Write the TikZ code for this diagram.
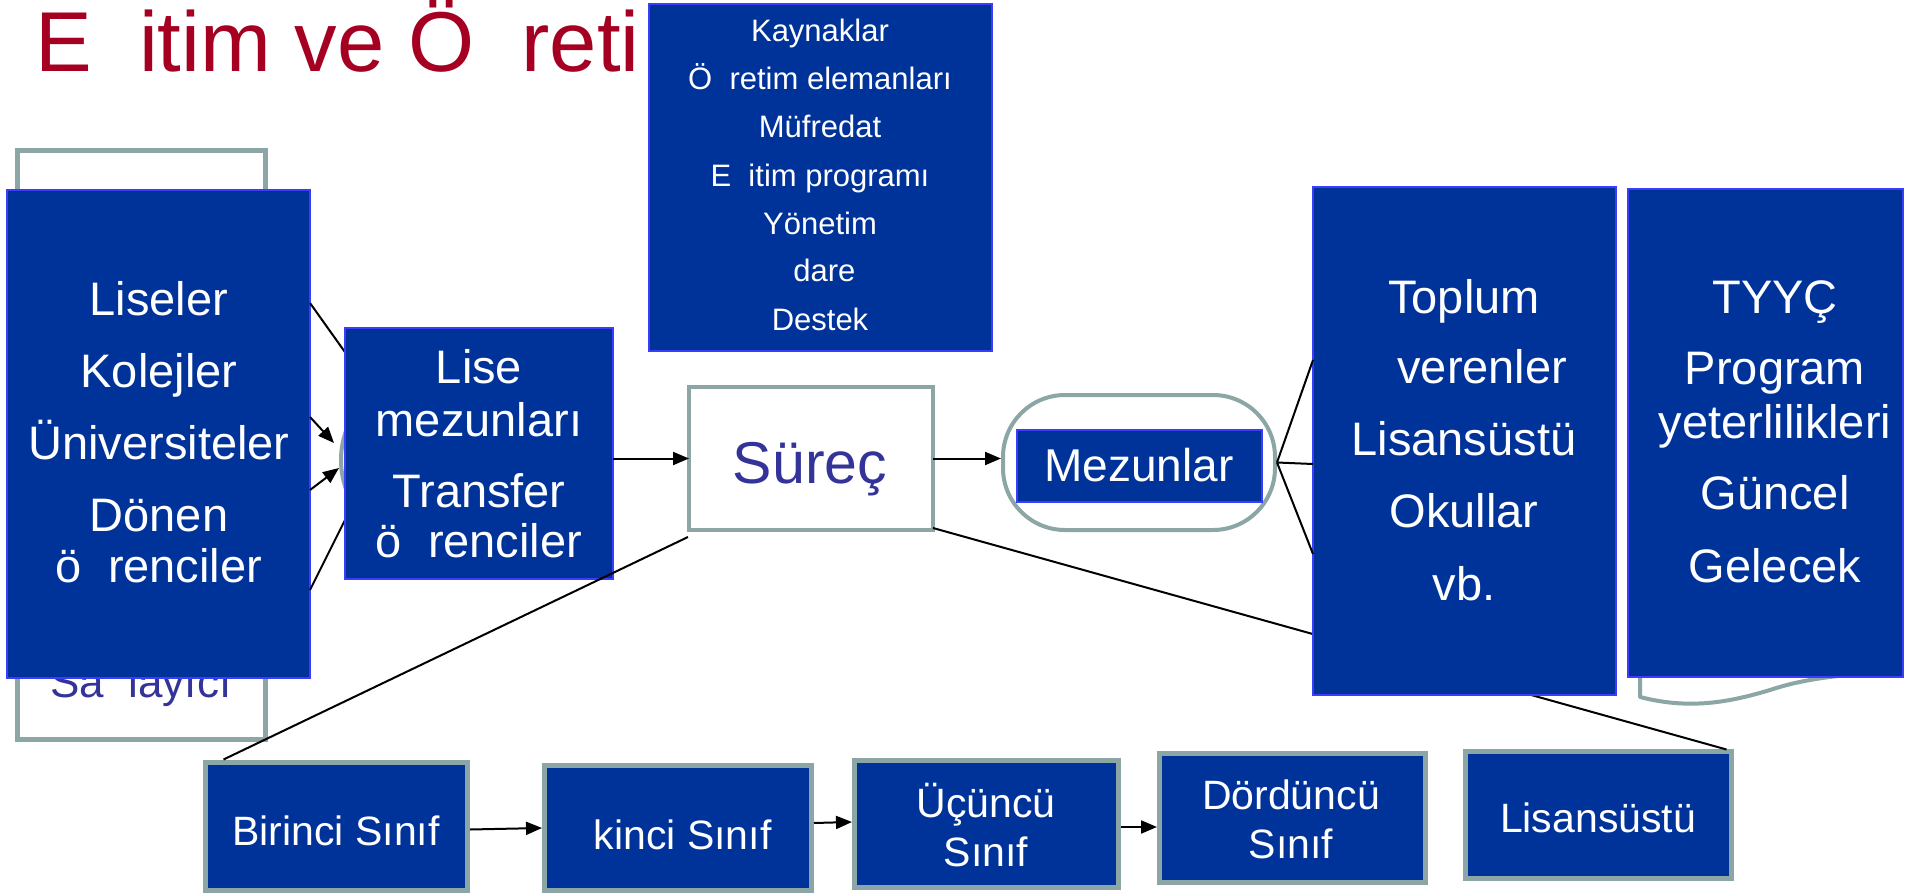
\documentclass[tikz,border=0pt]{standalone}
\usepackage{fontspec}
\setmainfont{Liberation Sans}
\usetikzlibrary{arrows.meta,fit,calc}
\definecolor{bfill}{RGB}{0,51,153}
\definecolor{bline}{RGB}{60,60,250}
\definecolor{gline}{RGB}{140,165,165}
\definecolor{tred}{RGB}{165,0,33}
\definecolor{tblue}{RGB}{51,51,153}
\newcommand\gp{\hspace{0.556em}}
\newcommand\gI{\hspace{0.278em}}
\newcommand\gIs{\hspace{0.778em}}
\begin{document}
\begin{tikzpicture}[x=1pt,y=-1pt,
  bluebox/.style={draw=bline, fill=bfill, line width=1.5pt, inner sep=0pt, outer sep=0pt},
  graybox/.style={draw=gline, fill=white, line width=5pt, inner sep=0pt, outer sep=0pt},
  classbox/.style={draw=gline, fill=bfill, line width=5pt, inner sep=0pt, outer sep=0pt},
  wt/.style={text=white, inner sep=0pt, anchor=base},
  conn/.style={draw=black, line width=2pt},
  arr/.style={conn, -{Triangle[length=16pt,width=13pt]}},
  fL/.style={font=\fontsize{47}{56}\selectfont},
  fS/.style={font=\fontsize{31}{36}\selectfont},
  fB/.style={font=\fontsize{41}{48}\selectfont},
]
\useasboundingbox (0,0) rectangle (1915,896);
\fill[white] (0,0) rectangle (1915,896);

% title
\node[font=\fontsize{85}{90}\selectfont, text=tred, anchor=base west, inner sep=0pt] (title) at (35,72) {E\gp itim ve Ö\gp reti};

% Saglayici box (behind)
\node[graybox, fit={(17.5,150.5) (265.5,739.5)}] (sag) {};
\node[font=\fontsize{44}{50}\selectfont, text=tblue, inner sep=0pt, anchor=base] (sagt) at (141,697) {Sa\gp layıcı};

% connectors from source box
\coordinate (l1e) at (352,362);
\coordinate (a1e) at (334,443);
\coordinate (a2e) at (339,468);
\coordinate (l2e) at (350,510);
\node[bluebox, fit={(7,190) (310,678)}] (src) {};
\draw[conn] ($(src.north east)+(0,113)$) -- (l1e);
\draw[arr] ($(src.north east)+(0,227)$) -- (a1e);
\draw[arr] ($(src.north east)+(0,300)$) -- (a2e);
\draw[conn] ($(src.north east)+(0,400)$) -- (l2e);
\node[wt, fL] (s1) at (159,315) {Liseler};
\node[wt, fL] (s2) at (159,387) {Kolejler};
\node[wt, fL] (s3) at (159,459) {Üniversiteler};
\node[wt, fL] (s4) at (159,531) {Dönen};
\node[wt, fL] (s5) at (159,582) {ö\gp renciler};

% ellipse behind Lise box
\node[draw=gline, fill=white, line width=4pt, rounded corners=86pt, inner sep=0pt, fit={(341,374) (600,546)}] (ell) {};
\node[bluebox, fit={(345,328) (613,579)}] (lise) {};
\node[wt, fL] (li1) at (479,383) {Lise};
\node[wt, fL] (li2) at (479,436) {mezunları};
\node[wt, fL] (li3) at (479,507) {Transfer};
\node[wt, fL] (li4) at (479,557) {ö\gp renciler};

% top resources box
\node[bluebox, fit={(649,4) (992,351)}] (res) {};
\node[wt, fS] (r1) at (820,42) {Kaynaklar};
\node[wt, fS] (r2) at (820,90) {Ö\gp retim elemanları};
\node[wt, fS] (r3) at (820,138) {Müfredat};
\node[wt, fS] (r4) at (820,187) {E\gp itim programı};
\node[wt, fS] (r5) at (820,235) {Yönetim};
\node[wt, fS] (r6) at (820,282) {\gI dare};
\node[wt, fS] (r7) at (820,330) {Destek};

% Surec
\node[draw=gline, fill=white, line width=4pt, inner sep=0pt, outer sep=0pt, fit={(689,387) (933,530)}] (sur) {};
\node[font=\fontsize{59}{66}\selectfont, text=tblue, inner sep=0pt, anchor=base] (surt) at (810,483) {Süreç};
\draw[arr] (lise.east |- sur.west) -- (sur.west);

% bottom class boxes
\node[classbox, fit={(205.5,762.5) (467.5,890.5)}] (bir) {};
\node[classbox, fit={(544.5,765.5) (811.5,890.5)}] (iki) {};
\node[classbox, fit={(854.5,760.5) (1118.5,887.5)}] (ucu) {};
\node[classbox, fit={(1159.5,753.5) (1425.5,882.5)}] (dor) {};
\node[classbox, fit={(1465.5,751.5) (1731.5,878.5)}] (lis) {};

% long lines from Surec
\draw[conn] ($(sur.south west)+(-1,7)$) -- ($(bir.north west)+(18,-3)$);
\draw[conn] ($(sur.south east)+(0,-2)$) -- ($(lis.north east)+(-5,-2)$);

% Mezunlar
\node[draw=gline, fill=white, line width=4pt, rounded corners=62pt, inner sep=0pt, outer sep=2pt, fit={(1003,395) (1275,530)}] (mez) {};
\node[bluebox, fit={(1017,430) (1262,502)}] (mezb) {};
\node[wt, font=\fontsize{46}{52}\selectfont] (mezt) at (1139,481) {Mezunlar};
\draw[arr] (sur.east) -- (sur.east -| mez.west);

% Toplum box
\node[bluebox, fit={(1313,187) (1616,695)}] (top) {};
\draw[conn] (mez.east) -- ($(top.north west)+(0,173)$);
\draw[conn] (mez.east) -- ($(top.north west)+(0,277)$);
\draw[conn] (mez.east) -- ($(top.north west)+(0,367)$);
\node[wt, fL] (t1) at (1464,313) {Toplum};
\node[wt, fL] (t2) at (1464,383) {\gIs verenler};
\node[wt, fL] (t3) at (1464,455) {Lisansüstü};
\node[wt, fL] (t4) at (1464,527) {Okullar};
\node[wt, fL] (t5) at (1464,600) {vb.};

% document shape behind TYYC
\draw[draw=gline, fill=white, line width=4pt, line join=round] (1640,260) -- (1640,697)
  .. controls (1690,710) and (1730,702) .. (1770,690)
  .. controls (1800,680) and (1830,676) .. (1880,672) -- (1880,260) -- cycle;
\node[bluebox, fit={(1628,189) (1903,677)}] (tyy) {};
\node[wt, fL] (y1) at (1775,313) {TYYÇ};
\node[wt, fL] (y2) at (1775,384) {Program};
\node[wt, fL] (y3) at (1775,438) {yeterlilikleri};
\node[wt, fL] (y4) at (1775,509) {Güncel};
\node[wt, fL] (y5) at (1775,582) {Gelecek};

% class texts
\node[wt, fB] (b1) at (336,845) {Birinci Sınıf};
\node[wt, fB] (b2) at (677,849) {\gI kinci Sınıf};
\node[wt, fB] (b3) at (986,817) {Üçüncü};
\node[wt, fB] (b3b) at (986,866) {Sınıf};
\node[wt, fB] (b4) at (1291,809) {Dördüncü};
\node[wt, fB] (b4b) at (1291,858) {Sınıf};
\node[wt, fB] (b5) at (1598,832) {Lisansüstü};

% class arrows
\draw[arr] ($(bir.east)+(2.5,3)$) -- ($(iki.west)+(-2.5,0)$);
\draw[arr] ($(iki.east)+(2.5,-5)$) -- ($(ucu.west)+(-2.5,-2)$);
\draw[arr] ($(ucu.east)+(2.5,3)$) -- ($(dor.west)+(-2.5,9)$);
\end{tikzpicture}
\end{document}
